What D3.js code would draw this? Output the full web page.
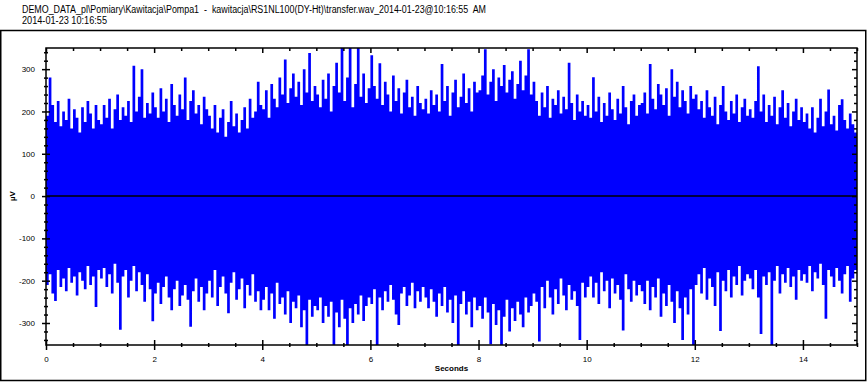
<!DOCTYPE html>
<html>
<head>
<meta charset="utf-8">
<script src="https://cdn.jsdelivr.net/npm/d3@7/dist/d3.min.js"></script>
<style>
  body { margin: 0; background: #fff; }
  svg { display: block; font-family: "Liberation Sans", Arial, sans-serif; }
  .tick text { font-size: 8px; fill: #000; }
  .title { white-space: pre; }
</style>
</head>
<body>
<div class="result"></div>
<script>
const titleLines = [
  'DEMO_DATA_pl\\Pomiary\\Kawitacja\\Pompa1  -  kawitacja\\RS1NL100(DY-Ht)\\transfer.wav_2014-01-23@10:16:55  AM',
  '2014-01-23 10:16:55'
]
const titleWidths = [464, 85]
const xLabel = 'Seconds'
const yLabel = 'µV'
const binSeconds = 0.05
const xDomain = [0, 15]
const yDomain = [-352, 350]
const xTicks = d3.range(0, 15.01, 0.5)
const xLabelled = [0, 2, 4, 6, 8, 10, 12, 14]
const yTicks = d3.range(-340, 341, 20)
const yLabelled = [-300, -200, -100, 0, 100, 200, 300]

// peak (max) value of each 0.05 s bin, one row per second
const upper = [
  190, 280, 215, 175, 225, 165, 200, 180, 230, 160, 205, 185, 150, 210, 175, 225, 195, 160, 215, 180,
  170, 215, 185, 230, 160, 205, 240, 180, 210, 190, 225, 175, 308, 200, 235, 300, 185, 220, 195, 245,
  210, 185, 255, 200, 230, 175, 265, 215, 190, 240, 205, 280, 180, 225, 250, 195, 215, 170, 235, 205,
  190, 160, 215, 150, 185, 205, 140, 175, 225, 165, 195, 150, 180, 210, 160, 230, 185, 200, 270, 215,
  205, 250, 185, 265, 230, 210, 280, 240, 323, 220, 255, 290, 235, 270, 215, 300, 245, 338, 225, 260,
  240, 210, 275, 230, 290, 200, 260, 315, 245, 350, 225, 280, 350, 210, 265, 350, 235, 290, 220, 255,
  333, 260, 230, 314, 215, 270, 240, 200, 285, 225, 255, 195, 245, 275, 210, 235, 190, 260, 220, 205,
  230, 195, 250, 215, 240, 200, 312, 225, 260, 190, 245, 275, 210, 235, 290, 220, 255, 200, 270, 245,
  250, 285, 347, 240, 270, 300, 225, 280, 260, 310, 245, 275, 295, 230, 265, 320, 250, 285, 347, 240,
  270, 225, 190, 245, 210, 260, 185, 230, 215, 250, 195, 235, 205, 315, 220, 180, 240, 200, 225, 190,
  215, 185, 281, 200, 235, 175, 220, 190, 245, 205, 180, 230, 195, 260, 210, 170, 225, 240, 190, 215,
  220, 245, 195, 312, 230, 205, 265, 240, 215, 255, 190, 300, 235, 270, 210, 250, 225, 195, 260, 230,
  240, 205, 225, 185, 250, 210, 190, 235, 170, 215, 260, 200, 180, 225, 195, 240, 175, 210, 230, 190,
  205, 185, 225, 307, 200, 240, 175, 215, 190, 235, 170, 210, 250, 185, 220, 165, 200, 230, 180, 210,
  175, 195, 160, 210, 150, 185, 230, 165, 200, 252, 170, 190, 155, 215, 229, 180, 160, 195, 170, 150
]
// trough (min) value of each 0.05 s bin
const lower = [
  -210, -185, -230, -248, -175, -215, -195, -225, -170, -205, -190, -235, -180, -200, -220, -165, -210, -190, -262, -175,
  -195, -170, -215, -185, -230, -160, -205, -316, -190, -175, -240, -200, -165, -225, -180, -210, -250, -185, -220, -296,
  -230, -205, -255, -215, -190, -240, -270, -220, -200, -260, -235, -210, -245, -309, -225, -195, -250, -215, -270, -230,
  -200, -240, -175, -260, -215, -190, -230, -277, -205, -180, -245, -220, -195, -265, -210, -235, -185, -250, -225, -270,
  -245, -215, -270, -230, -290, -205, -255, -240, -280, -225, -300, -250, -265, -235, -310, -270, -352, -245, -285, -260,
  -270, -240, -300, -260, -285, -250, -352, -275, -310, -245, -290, -352, -265, -300, -255, -280, -235, -295, -260, -240,
  -255, -220, -352, -240, -270, -225, -250, -210, -245, -280, -305, -230, -215, -260, -235, -205, -265, -225, -250, -215,
  -240, -265, -220, -250, -285, -230, -260, -215, -275, -245, -300, -235, -352, -255, -225, -280, -250, -310, -240, -270,
  -260, -290, -240, -275, -350, -255, -305, -270, -352, -285, -245, -320, -265, -295, -250, -280, -310, -240, -275, -260,
  -230, -250, -344, -215, -265, -200, -240, -280, -220, -255, -195, -235, -270, -210, -245, -225, -260, -340, -205, -240,
  -215, -190, -240, -205, -255, -180, -225, -200, -265, -195, -230, -210, -245, -318, -185, -220, -250, -200, -235, -210,
  -225, -255, -200, -270, -215, -240, -195, -285, -230, -260, -210, -250, -300, -225, -265, -340, -240, -280, -220, -352,
  -210, -185, -230, -170, -245, -195, -215, -260, -180, -319, -200, -225, -175, -240, -190, -210, -165, -235, -200, -185,
  -195, -220, -175, -240, -326, -190, -210, -180, -352, -200, -165, -230, -185, -205, -170, -215, -190, -245, -175, -200,
  -185, -205, -165, -225, -180, -195, -160, -210, -290, -175, -190, -215, -170, -200, -230, -185, -165, -250, -195, -175
]

const W = 867, H = 382
const plot = { left: 46, right: 857, top: 48, bottom: 345 }

const svg = d3.select('.result').append('svg').attr('width', W).attr('height', H)

// outer frame
svg.append('rect')
  .attr('x', 0.75).attr('y', 30.5).attr('width', 865).attr('height', 350)
  .attr('fill', 'none').attr('stroke', '#000').attr('stroke-width', 1.5)

svg.append('g').selectAll('text')
  .data(titleLines)
  .enter()
  .append('text')
  .attr('class', 'title')
  .attr('x', 22)
  .attr('y', (d, i) => 13 + i * 11)
  .attr('font-size', '10px')
  .attr('textLength', (d, i) => titleWidths[i])
  .attr('lengthAdjust', 'spacingAndGlyphs')
  .attr('fill', '#000')
  .text((d) => d)

const x = d3.scaleLinear().domain(xDomain).range([plot.left, plot.right])
const y = d3.scaleLinear().domain(yDomain).range([plot.bottom, plot.top])

const bins = upper.map((hi, i) => ({ t: i * binSeconds, hi: hi, lo: lower[i] }))
bins.push({ t: xDomain[1], hi: upper[upper.length - 1], lo: lower[lower.length - 1] })

svg.append('clipPath').attr('id', 'clip')
  .append('rect')
  .attr('x', plot.left).attr('y', plot.top)
  .attr('width', plot.right - plot.left).attr('height', plot.bottom - plot.top)

const area = d3.area()
  .x((d) => x(d.t))
  .y0((d) => y(d.lo))
  .y1((d) => y(d.hi))
  .curve(d3.curveStepAfter)

svg.append('path')
  .datum(bins)
  .attr('clip-path', 'url(#clip)')
  .attr('fill', '#0000ff')
  .attr('d', area)

// zero line
svg.append('line')
  .attr('x1', plot.left).attr('x2', plot.right)
  .attr('y1', y(0)).attr('y2', y(0))
  .attr('stroke', '#000').attr('stroke-width', 1.5)

// plot frame
svg.append('rect')
  .attr('x', plot.left).attr('y', plot.top)
  .attr('width', plot.right - plot.left).attr('height', plot.bottom - plot.top)
  .attr('fill', 'none').attr('stroke', '#000').attr('stroke-width', 1.5)

const isMajorX = (d) => xLabelled.indexOf(d) >= 0
const isMajorY = (d) => yLabelled.indexOf(d) >= 0

const bottomAxis = svg.append('g')
  .attr('transform', 'translate(0,' + plot.bottom + ')')
  .call(d3.axisBottom(x).tickValues(xTicks).tickSize(5).tickPadding(6)
    .tickFormat((d) => (isMajorX(d) ? d : '')))
bottomAxis.select('.domain').remove()
bottomAxis.selectAll('.tick line')
  .attr('y1', (d) => (isMajorX(d) ? -5 : -2))
  .attr('y2', (d) => (isMajorX(d) ? 5 : 2))
  .attr('stroke-width', 1.5)

const topAxis = svg.append('g')
  .attr('transform', 'translate(0,' + plot.top + ')')
  .call(d3.axisTop(x).tickValues(xTicks).tickSize(-5).tickFormat(''))
topAxis.select('.domain').remove()
topAxis.selectAll('.tick line')
  .attr('y2', (d) => (isMajorX(d) ? 5 : 3))
  .attr('stroke-width', 1.5)

const leftAxis = svg.append('g')
  .attr('transform', 'translate(' + plot.left + ',0)')
  .call(d3.axisLeft(y).tickValues(yTicks).tickSize(4).tickPadding(7)
    .tickFormat((d) => (isMajorY(d) ? d : '')))
leftAxis.select('.domain').remove()
leftAxis.selectAll('.tick line')
  .attr('x1', (d) => (isMajorY(d) ? 4 : 2))
  .attr('x2', (d) => (isMajorY(d) ? -4 : -2))
  .attr('stroke-width', 1.5)

const rightAxis = svg.append('g')
  .attr('transform', 'translate(' + plot.right + ',0)')
  .call(d3.axisRight(y).tickValues(yTicks).tickSize(-5).tickFormat(''))
rightAxis.select('.domain').remove()
rightAxis.selectAll('.tick line')
  .attr('x2', (d) => (isMajorY(d) ? -5 : -3))
  .attr('stroke-width', 1.5)

svg.append('text')
  .attr('x', (plot.left + plot.right) / 2)
  .attr('y', 371)
  .attr('text-anchor', 'middle')
  .attr('font-size', '8px')
  .attr('font-weight', 'bold')
  .text(xLabel)

svg.append('text')
  .attr('transform', 'translate(15,' + y(0) + ') rotate(-90)')
  .attr('text-anchor', 'middle')
  .attr('font-size', '8px')
  .attr('font-weight', 'bold')
  .text(yLabel)
</script>
</body>
</html>
